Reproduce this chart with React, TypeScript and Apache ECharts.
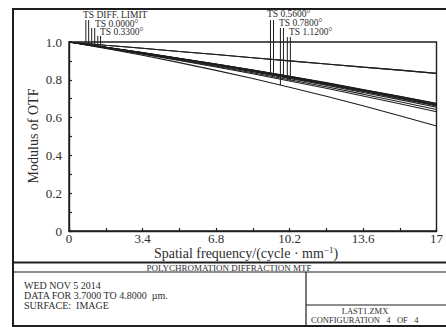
import React, { useEffect, useRef } from "react";
import * as echarts from "echarts";

// spatial frequencies (cycles/mm)
const freqs = [0, 1.7, 3.4, 5.1, 6.8, 8.5, 10.2, 11.9, 13.6, 15.3, 17];

// MTF curves (T = tangential, S = sagittal)
const diffT = [1.0, 0.983, 0.967, 0.95, 0.934, 0.917, 0.9, 0.884, 0.867, 0.851, 0.834];
const diffS = [1.0, 0.983, 0.967, 0.95, 0.934, 0.917, 0.9, 0.884, 0.867, 0.851, 0.834];
const f000T = [1.0, 0.972, 0.943, 0.913, 0.882, 0.85, 0.817, 0.782, 0.746, 0.71, 0.672];
const f000S = [1.0, 0.972, 0.944, 0.913, 0.883, 0.851, 0.818, 0.783, 0.747, 0.711, 0.673];
const f033T = [1.0, 0.972, 0.942, 0.911, 0.88, 0.847, 0.813, 0.777, 0.741, 0.704, 0.665];
const f033S = [1.0, 0.972, 0.944, 0.914, 0.884, 0.852, 0.819, 0.785, 0.749, 0.713, 0.676];
const f056T = [1.0, 0.971, 0.94, 0.909, 0.876, 0.843, 0.807, 0.771, 0.733, 0.695, 0.655];
const f056S = [1.0, 0.972, 0.942, 0.912, 0.881, 0.849, 0.814, 0.779, 0.743, 0.706, 0.668];
const f078T = [1.0, 0.966, 0.93, 0.891, 0.85, 0.807, 0.761, 0.713, 0.663, 0.61, 0.556];
const f078S = [1.0, 0.971, 0.941, 0.91, 0.879, 0.846, 0.811, 0.775, 0.738, 0.701, 0.662];
const f112T = [1.0, 0.97, 0.938, 0.905, 0.872, 0.837, 0.8, 0.763, 0.724, 0.684, 0.643];
const f112S = [1.0, 0.969, 0.936, 0.902, 0.868, 0.832, 0.794, 0.755, 0.714, 0.673, 0.631];

const curves = [diffT, diffS, f000T, f000S, f033T, f033S, f056T, f056S, f078T, f078S, f112T, f112S];

// legend markers: frequency, top value (label level), bottom value (on curve)
const markerFreqs = [0.78, 0.91, 1.05, 1.19, 1.33, 1.46, 9.32, 9.46, 9.78, 9.92, 10.1, 10.24];
const markerTops = [1.116, 1.116, 1.074, 1.074, 1.032, 1.032, 1.116, 1.116, 1.074, 1.074, 1.026, 1.026];
const markerBottoms = [0.992, 0.991, 0.98, 0.978, 0.977, 0.975, 0.826, 0.829, 0.772, 0.817, 0.802, 0.793];

const fieldLabels = ["TS DIFF. LIMIT", "TS 0.0000°", "TS 0.3300°", "TS 0.5600°", "TS 0.7800°", "TS 1.1200°"];

const xTickLabels = ["0", "3.4", "6.8", "10.2", "13.6", "17"];
const yTickLabels = ["0", "0.2", "0.4", "0.6", "0.8", "1.0"];

const FONT = "'Liberation Serif', 'Times New Roman', serif";
const INK = "#1e1e1e";
const TXT = "#2e2e2e";

export default function App() {
  const ref = useRef<HTMLDivElement>(null);
  useEffect(() => {
    if (!ref.current) return;
    document.body.style.overflow = "hidden";
    const chart = echarts.init(ref.current, undefined, { renderer: "svg" });

    const series: any[] = curves.map((c) => ({
      type: "line",
      data: freqs.map((f, k) => [f, c[k]]),
      symbol: "none",
      silent: true,
      lineStyle: { color: INK, width: 1.1 },
      z: 3,
    }));
    markerFreqs.forEach((f, i) => {
      series.push({
        type: "line",
        data: [
          [f, markerTops[i]],
          [f, markerBottoms[i]],
        ],
        symbol: "none",
        clip: false,
        silent: true,
        lineStyle: { color: INK, width: 1 },
        z: 4,
      });
    });

    const labelPos = [
      [83, 15],
      [95, 23.5],
      [100, 32],
      [267, 14],
      [279, 23],
      [289, 32],
    ];

    const graphic: any[] = [
      {
        type: "rect",
        shape: { x: 13, y: 9, width: 480, height: 317 },
        style: { fill: "none", stroke: INK, lineWidth: 2 },
        silent: true,
      },
      { type: "line", shape: { x1: 13, y1: 262.5, x2: 480, y2: 262.5 }, style: { stroke: INK, lineWidth: 2 } },
      { type: "line", shape: { x1: 13, y1: 272, x2: 480, y2: 272 }, style: { stroke: INK, lineWidth: 1.2 } },
      { type: "line", shape: { x1: 306, y1: 272, x2: 306, y2: 326 }, style: { stroke: INK, lineWidth: 1.2 } },
      { type: "line", shape: { x1: 306, y1: 305, x2: 480, y2: 305 }, style: { stroke: INK, lineWidth: 1.2 } },
      {
        type: "text",
        x: 229,
        y: 267.5,
        style: {
          text: "POLYCHROMATION DIFFRACTION MTF",
          font: `9px ${FONT}`,
          fill: TXT,
          textAlign: "center",
          textVerticalAlign: "middle",
        },
      },
      {
        type: "text",
        x: 24,
        y: 285,
        style: { text: "WED NOV 5 2014", font: `10px ${FONT}`, fill: TXT, textVerticalAlign: "middle" },
      },
      {
        type: "text",
        x: 24,
        y: 295,
        style: {
          text: "DATA FOR 3.7000 TO 4.8000  µm.",
          font: `10px ${FONT}`,
          fill: TXT,
          textVerticalAlign: "middle",
        },
      },
      {
        type: "text",
        x: 24,
        y: 305,
        style: { text: "SURFACE:  IMAGE", font: `10px ${FONT}`, fill: TXT, textVerticalAlign: "middle" },
      },
      {
        type: "text",
        x: 365,
        y: 311,
        style: { text: "LAST1.ZMX", font: `8.5px ${FONT}`, fill: TXT, textAlign: "center", textVerticalAlign: "middle" },
      },
      {
        type: "text",
        x: 311,
        y: 320,
        style: {
          text: "CONFIGURATION   4   OF   4",
          font: `8.5px ${FONT}`,
          fill: TXT,
          textVerticalAlign: "middle",
        },
      },
      {
        type: "text",
        x: 33,
        y: 136,
        rotation: Math.PI / 2,
        style: {
          text: "Modulus of OTF",
          font: `14px ${FONT}`,
          fill: TXT,
          textAlign: "center",
          textVerticalAlign: "middle",
        },
      },
      {
        type: "text",
        x: 246,
        y: 253,
        style: {
          text: "{a|Spatial frequency/(cycle · mm}{s|−1}{a|)}",
          textAlign: "center",
          textVerticalAlign: "middle",
          rich: {
            a: { fontFamily: FONT, fontSize: 14, lineHeight: 15, fill: TXT, verticalAlign: "bottom" },
            s: { fontFamily: FONT, fontSize: 9, lineHeight: 10, fill: TXT, verticalAlign: "top" },
          },
        },
      },
    ];
    fieldLabels.forEach((t, i) => {
      graphic.push({
        type: "text",
        x: labelPos[i][0],
        y: labelPos[i][1],
        style: { text: t, font: `9.5px ${FONT}`, fill: TXT, textVerticalAlign: "middle" },
        z: 10,
      });
    });

    chart.setOption({
      animation: false,
      backgroundColor: "#ffffff",
      grid: {
        left: 69,
        top: 42,
        right: 5,
        bottom: 96,
        show: true,
        borderColor: INK,
        borderWidth: 1.4,
        containLabel: false,
      },
      xAxis: {
        type: "value",
        min: 0,
        max: 17,
        interval: 1.7,
        axisLine: { show: true, lineStyle: { color: INK, width: 1.4 } },
        axisTick: { show: true, inside: true, length: 3, lineStyle: { color: INK, width: 1.2 } },
        splitLine: { show: false },
        axisLabel: {
          margin: 1,
          fontFamily: FONT,
          fontSize: 13,
          color: TXT,
          showMaxLabel: true,
          formatter: (v: number) => {
            const k = Math.round(v / 1.7);
            return k % 2 === 0 ? xTickLabels[k / 2] : "";
          },
        },
      },
      yAxis: {
        type: "value",
        min: 0,
        max: 1,
        interval: 0.1,
        axisLine: { show: true, lineStyle: { color: INK, width: 1.4 } },
        axisTick: { show: true, inside: true, length: 3, lineStyle: { color: INK, width: 1.2 } },
        splitLine: { show: false },
        axisLabel: {
          margin: 7,
          fontFamily: FONT,
          fontSize: 13,
          color: TXT,
          formatter: (v: number) => {
            const k = Math.round(v * 10);
            return k % 2 === 0 ? yTickLabels[k / 2] : "";
          },
        },
      },
      series,
      graphic,
    });
    return () => chart.dispose();
  }, []);
  return (
    <div
      ref={ref}
      style={{ position: "absolute", left: 0, top: 0, width: 446, height: 327, background: "#fff" }}
    />
  );
}
